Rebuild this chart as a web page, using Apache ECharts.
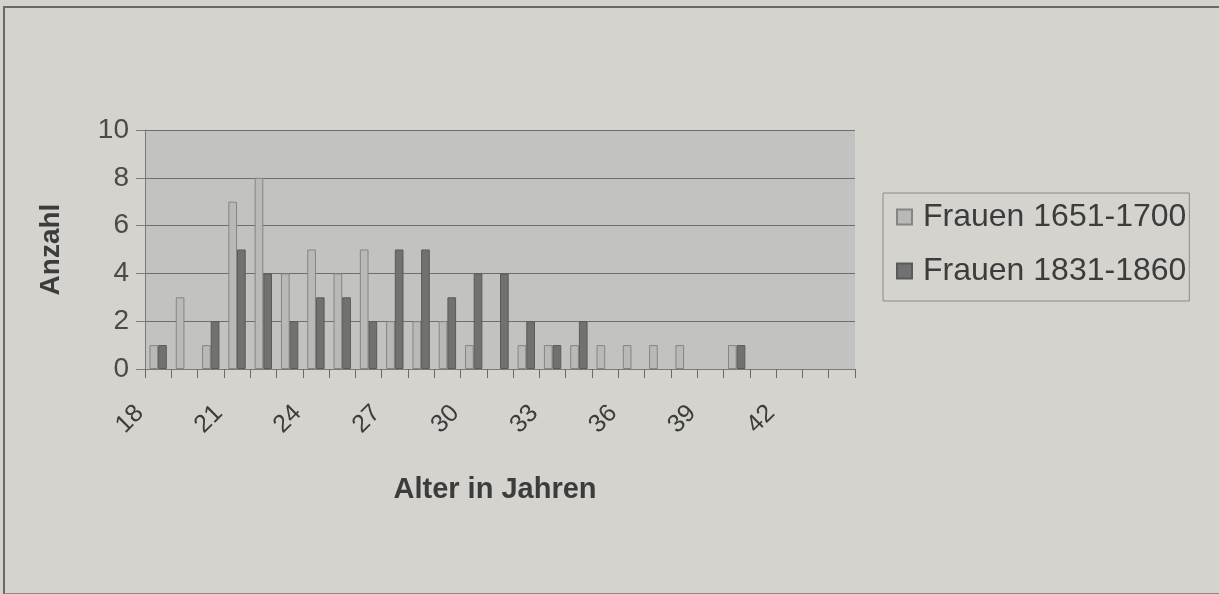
<!DOCTYPE html>
<html lang="de">
<head>
<meta charset="UTF-8">
<title>Alter in Jahren</title>
<script src="https://cdn.jsdelivr.net/npm/echarts@6/dist/echarts.min.js"></script>
<style>
  html, body { margin: 0; padding: 0; background: #d4d3ce; }
  #frame {
    position: absolute; left: 3px; top: 6px; width: 1225px; height: 585px;
    border-left: 2px solid #6a6a68; border-top: 2px solid #6a6a68; border-bottom: 2px solid #8a8a88;
  }
  #chart { position: absolute; left: 0; top: 0; width: 1219px; height: 594px; }
</style>
</head>
<body>
<div id="frame"></div>
<div id="chart"></div>
<script>
// Alter 18..44
const ages = ['18', '19', '20', '21', '22', '23', '24', '25', '26', '27', '28', '29', '30', '31',
              '32', '33', '34', '35', '36', '37', '38', '39', '40', '41', '42', '43', '44'];

const frauen1651 = [1, 3, 1, 7, 8, 4, 5, 4, 5, 2, 2, 2, 1, 0, 1, 1, 1, 1, 1, 1, 1, 0, 1, 0, 0, 0, 0];
const frauen1831 = [1, 0, 2, 5, 4, 2, 3, 3, 2, 5, 5, 3, 4, 4, 2, 1, 2, 0, 0, 0, 0, 0, 1, 0, 0, 0, 0];

// Nullwerte nicht als Balken zeichnen
const noZero = arr => arr.map(v => (v === 0 ? null : v));

const chart = echarts.init(document.getElementById('chart'));
const font = 'Liberation Sans, Arial, sans-serif';

chart.setOption({
  animation: false,
  backgroundColor: 'transparent',
  grid: { left: 145, top: 130, right: 364, bottom: 225, show: true, backgroundColor: '#c2c2c0', borderWidth: 0 },
  legend: {
    left: 883, top: 193,
    orient: 'vertical',
    icon: 'rect',
    itemWidth: 15, itemHeight: 15, itemGap: 22,
    padding: [8, 3, 14, 13],
    borderColor: '#8a8a88', borderWidth: 1,
    backgroundColor: '#d4d3ce',
    textStyle: { fontFamily: font, fontSize: 32, color: '#3c3c3c', padding: [0, 0, 0, 6] },
    data: ['Frauen 1651-1700', 'Frauen 1831-1860']
  },
  xAxis: {
    type: 'category',
    data: ages,
    name: 'Alter in Jahren',
    nameLocation: 'middle',
    nameGap: 106,
    nameTextStyle: { fontFamily: font, fontSize: 29, fontWeight: 'bold', color: '#3c3c3c', padding: [0, 0, 0, -10] },
    axisLine: { show: true, lineStyle: { color: '#7a7a78', width: 1 } },
    axisTick: { show: true, interval: 0, length: 9, lineStyle: { color: '#6a6a68', width: 1 } },
    axisLabel: { interval: 2, rotate: 45, margin: 22, padding: [0, 26, 0, 0], fontFamily: font, fontSize: 25, color: '#3c3c3c' }
  },
  yAxis: {
    type: 'value',
    min: 0, max: 10, interval: 2,
    name: 'Anzahl',
    nameLocation: 'middle',
    nameGap: 80,
    nameTextStyle: { fontFamily: font, fontSize: 28, fontWeight: 'bold', color: '#3c3c3c' },
    axisLine: { show: true, lineStyle: { color: '#7a7a78' } },
    axisTick: { show: true, length: 9, lineStyle: { color: '#7a7a78' } },
    axisLabel: { margin: 16, fontFamily: font, fontSize: 28, color: '#4a4a4a' },
    splitLine: { lineStyle: { color: '#6e6e6c', width: 1 } }
  },
  series: [
    {
      name: 'Frauen 1651-1700', type: 'bar', data: noZero(frauen1651),
      barGap: '0%', barCategoryGap: '34%',
      itemStyle: { color: '#b9b9b7', borderColor: '#858583', borderWidth: 1 }
    },
    {
      name: 'Frauen 1831-1860', type: 'bar', data: noZero(frauen1831),
      itemStyle: { color: '#717170', borderColor: '#5a5a58', borderWidth: 1 }
    }
  ]
});
</script>
</body>
</html>
